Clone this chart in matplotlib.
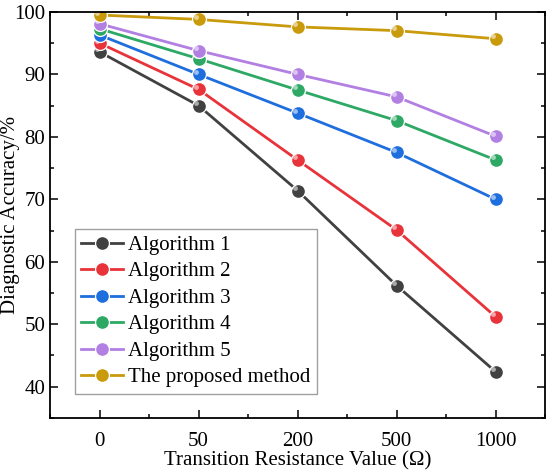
import matplotlib
matplotlib.use("Agg")
import matplotlib.pyplot as plt
import matplotlib.transforms as mtransforms
from matplotlib.ticker import MultipleLocator

plt.rcParams['font.family'] = ['Liberation Serif', 'DejaVu Serif']

# data
resistance = ['0', '50', '200', '500', '1000']
alg1 = [93.6, 85.0, 71.4, 56.2, 42.4]
alg2 = [95.0, 87.6, 76.3, 65.1, 51.2]
alg3 = [96.3, 90.0, 83.8, 77.5, 70.0]
alg4 = [97.3, 92.5, 87.5, 82.6, 76.3]
alg5 = [98.1, 93.8, 90.0, 86.4, 80.1]
proposed = [99.5, 98.8, 97.6, 97.0, 95.7]

names = ['Algorithm 1', 'Algorithm 2', 'Algorithm 3', 'Algorithm 4',
         'Algorithm 5', 'The proposed method']
series = [alg1, alg2, alg3, alg4, alg5, proposed]
colors = ['#414141', '#e8333a', '#1f6ede', '#2ea865', '#b27fe2', '#c99a0b']

fig = plt.figure(figsize=(5.5, 4.76), dpi=100)
ax = fig.add_axes([0.091, 0.122, 0.9, 0.853])

x = list(range(len(resistance)))
hl = mtransforms.offset_copy(ax.transData, fig=fig, x=-1.8, y=1.8, units='points')
for vals, c, n in zip(series, colors, names):
    ax.plot(x, vals, '-o', color=c, lw=2.0, ms=10, mfc=c, mec='white',
            mew=0.9, label=n)
    ax.plot(x, vals, 'o', ms=3.5, color='white', alpha=0.55, mew=0,
            transform=hl)

ax.set_xlim(-0.5, 4.5)
ax.set_ylim(35, 100)
ax.set_xticks(x)
ax.set_xticklabels(resistance)
ax.xaxis.set_minor_locator(MultipleLocator(0.5))
ax.yaxis.set_major_locator(MultipleLocator(10))
ax.yaxis.set_minor_locator(MultipleLocator(5))
ax.tick_params(which='both', direction='in', top=True, right=True,
               labelsize=15, width=1.1)
ax.tick_params(which='major', length=6)
ax.tick_params(which='minor', length=3)
ax.tick_params(axis='x', pad=10)
for s in ax.spines.values():
    s.set_linewidth(1.3)

ax.set_xlabel('Transition Resistance Value (Ω)', fontsize=15, labelpad=0)
ax.set_ylabel('Diagnostic Accuracy/%', fontsize=15)
ax.yaxis.set_label_coords(-0.06, 0.5)

leg = ax.legend(loc='lower left', bbox_to_anchor=(0.05, 0.06), fontsize=15,
                frameon=True, fancybox=False, edgecolor='#888888',
                borderpad=0.3, labelspacing=0.33, handlelength=2.0,
                handletextpad=0.25, borderaxespad=0)
leg.get_frame().set_linewidth(1.0)

fig.savefig('out.png', dpi=100)
